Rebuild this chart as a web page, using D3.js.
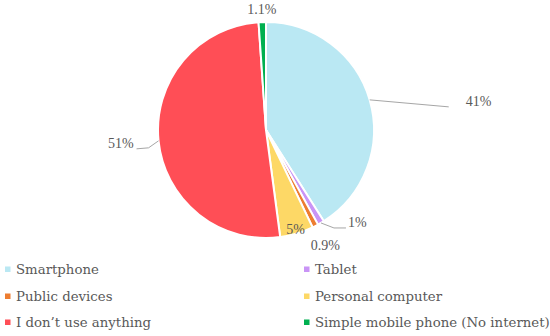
<!DOCTYPE html>
<html>
<head>
<meta charset="utf-8">
<script src="https://cdn.jsdelivr.net/npm/d3@7"></script>
<style>
  html, body { margin: 0; padding: 0; background: #fff; }
  svg { display: block; }
</style>
</head>
<body>
<svg id="chart" width="550" height="336"></svg>
<script>
const categories = ["Smartphone", "Tablet", "Public devices", "Personal computer", "I don\u2019t use anything", "Simple mobile phone (No internet)"];
const values = [41, 1, 0.9, 5, 51, 1.1];
const valueLabels = ["41%", "1%", "0.9%", "5%", "51%", "1.1%"];
const colors = ["#BAE8F3", "#C994F6", "#ED7D31", "#FDD866", "#FF4E56", "#00B050"];

const svg = d3.select("#chart");
const cx = 266, cy = 130, R = 108;
const textColor = "#595959";
const leaderColor = "#A6A6A6";

const data = categories.map((c, i) => ({ cat: c, value: values[i], label: valueLabels[i], color: colors[i] }));

const pie = d3.pie().sort(null).value(d => d.value).startAngle(0).endAngle(2 * Math.PI);
const arcs = pie(data);
const arc = d3.arc().innerRadius(0).outerRadius(R);

const g = svg.append("g").attr("transform", `translate(${cx},${cy})`);
g.selectAll("path.slice").data(arcs).enter().append("path")
  .attr("class", "slice")
  .attr("d", arc)
  .attr("fill", d => d.data.color)
  .attr("stroke", "#fff")
  .attr("stroke-width", 2)
  .attr("stroke-linejoin", "round");

// label placement config per slice (index based)
const labelCfg = [
  { type: "leader", pts: [[79, 7]], textDx: 17, anchor: "start" },
  { type: "leader", pts: [[13, 5], [25, 5]], textDx: 2, anchor: "start" },
  { type: "radial", r: 130 },
  { type: "radial", r: 104 },
  { type: "leader", pts: [[-10, 7], [-22, 8]], textDx: -3, anchor: "end" },
  { type: "radial", r: 121 }
];

const labelFont = "'Liberation Serif', 'Times New Roman', serif";

arcs.forEach((a, i) => {
  const cfg = labelCfg[i];
  const mid = (a.startAngle + a.endAngle) / 2;
  if (cfg.type === "leader") {
    const p0 = [R * Math.sin(mid), -R * Math.cos(mid)];
    const pts = [p0].concat(cfg.pts.map(p => [p0[0] + p[0], p0[1] + p[1]]));
    g.append("path")
      .attr("d", d3.line()(pts))
      .attr("fill", "none")
      .attr("stroke", leaderColor)
      .attr("stroke-width", 1);
    const last = pts[pts.length - 1];
    g.append("text")
      .attr("x", last[0] + cfg.textDx)
      .attr("y", last[1] - 5)
      .attr("text-anchor", cfg.anchor)
      .attr("dominant-baseline", "central")
      .attr("font-family", labelFont)
      .attr("font-size", 14)
      .attr("fill", textColor)
      .text(a.data.label);
  } else {
    const x = cfg.r * Math.sin(mid), y = -cfg.r * Math.cos(mid);
    g.append("text")
      .attr("x", x)
      .attr("y", y)
      .attr("text-anchor", "middle")
      .attr("dominant-baseline", "central")
      .attr("font-family", labelFont)
      .attr("font-size", 14)
      .attr("fill", textColor)
      .text(a.data.label);
  }
});

// legend
const legendFont = "'DejaVu Serif', serif";
const colX = [5, 304];
const rowY = [269, 296, 322];
const leg = svg.append("g");
data.forEach((d, i) => {
  const col = i % 2, row = Math.floor(i / 2);
  const x = colX[col], y = rowY[row];
  leg.append("rect")
    .attr("x", x).attr("y", y - 2.5)
    .attr("width", 5.5).attr("height", 5.5)
    .attr("fill", d.color);
  leg.append("text")
    .attr("x", x + 11)
    .attr("y", y)
    .attr("dominant-baseline", "central")
    .attr("font-family", legendFont)
    .attr("font-size", 13.3)
    .attr("fill", textColor)
    .text(d.cat);
});
</script>
</body>
</html>
